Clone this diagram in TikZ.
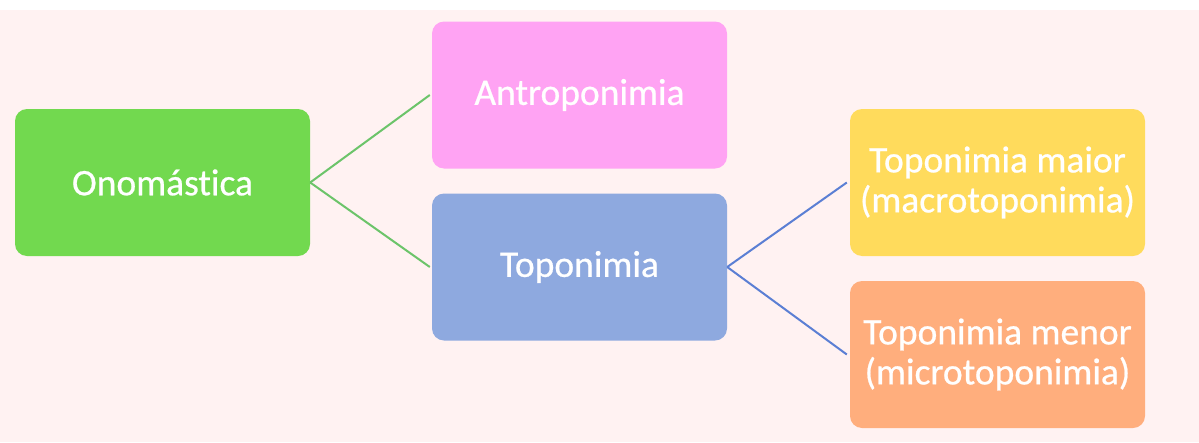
\documentclass[tikz,border=0pt]{standalone}
\usepackage{fontspec}
\setmainfont{Carlito}[Ligatures=NoCommon, FakeBold=0.6]
\definecolor{bgpink}{HTML}{FFF2F2}
\definecolor{cgreen}{HTML}{72D94F}
\definecolor{cpink}{HTML}{FFA3F3}
\definecolor{cblue}{HTML}{8EA9DF}
\definecolor{cyellow}{HTML}{FFDB5C}
\definecolor{corange}{HTML}{FFAE7D}
\definecolor{lgreen}{HTML}{6CC46A}
\definecolor{lblue}{HTML}{5B7FD4}
\begin{document}
\begin{tikzpicture}[x=1pt,y=-1pt,
  box/.style={rounded corners=12pt, minimum width=295pt, minimum height=147pt,
    text=white, font=\fontsize{37.5}{40}\selectfont, align=center, inner sep=0pt},
  gline/.style={draw=lgreen, line width=2pt},
  bline/.style={draw=lblue, line width=2pt}]
\fill[white] (0,0) rectangle (1199,442);
\fill[bgpink] (0,10) rectangle (1199,442);
\useasboundingbox (0,0) rectangle (1199,442);
\node[box, fill=cgreen] (ono) at (162.5,182.5) {Onomástica};
\node[box, fill=cpink] (antro) at (579.5,95) {Antroponimia};
\node[box, fill=cblue] (topo) at (579.5,267) {Toponimia};
\node[box, fill=cyellow] (maior) at (997.5,182.5) {Toponimia maior\\(macrotoponimia)};
\node[box, fill=corange] (menor) at (997.5,354.5) {Toponimia menor\\(microtoponimia)};
\draw[gline] (ono.east) -- ([xshift=-2pt]antro.west);
\draw[gline] (ono.east) -- ([xshift=-2pt]topo.west);
\draw[bline] (topo.east) -- ([xshift=-3pt]maior.west);
\draw[bline] (topo.east) -- ([xshift=-3pt]menor.west);
\end{tikzpicture}
\end{document}
